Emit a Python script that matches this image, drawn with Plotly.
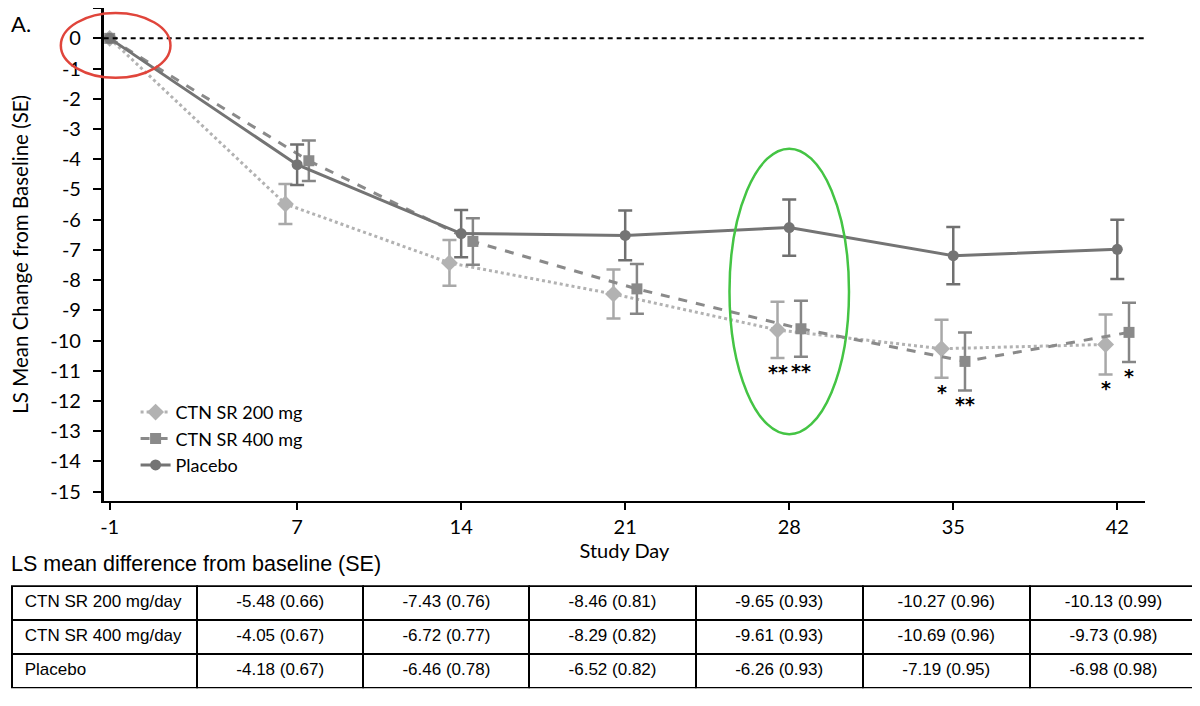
import plotly.graph_objects as go

days = [-1, 7, 14, 21, 28, 35, 42]
y_ticks = list(range(-15, 2))

mean_200 = [0, -5.48, -7.43, -8.46, -9.65, -10.27, -10.13]
se_200 = [0, 0.66, 0.76, 0.81, 0.93, 0.96, 0.99]
sig_200 = ["", "", "", "", "**", "*", "*"]

mean_400 = [0, -4.05, -6.72, -8.29, -9.61, -10.69, -9.73]
se_400 = [0, 0.67, 0.77, 0.82, 0.93, 0.96, 0.98]
sig_400 = ["", "", "", "", "**", "**", "*"]

mean_pbo = [0, -4.18, -6.46, -6.52, -6.26, -7.19, -6.98]
se_pbo = [0, 0.67, 0.78, 0.82, 0.93, 0.95, 0.98]

table_rows = ["CTN SR 200 mg/day", "CTN SR 400 mg/day", "Placebo"]

# page body has an 8px margin, so the figure starts at (8, 8) in the window
OFF = 8
W, H = 1200 - OFF, 706 - OFF
AX_FONT = "Lato"
TB_FONT = "Liberation Sans, Arial"


def px_x(p):
    return (p - OFF) / W


def px_y(p):
    return 1 - (p - OFF) / H


def dodge(xs, d):
    # small horizontal shift so error bars don't overlap; none at baseline
    return [x if x == -1 else x + d for x in xs]


def nowrap(s):
    # keep table labels on one line
    return s.replace(" ", "\u00a0")


series = [
    ("CTN SR 200 mg", mean_200, se_200, -0.5, "#b2b2b2", "#a8a8a8", "dot", "diamond", 13),
    ("CTN SR 400 mg", mean_400, se_400, 0.5, "#8a8a8a", "#868686", "dash", "square", 11),
    ("Placebo", mean_pbo, se_pbo, 0.0, "#747474", "#707070", "solid", "circle", 11),
]

fig = go.Figure()

for name, m, se, d, col, ecol, dash, sym, msize in series:
    fig.add_trace(go.Scatter(
        x=dodge(days, d), y=m, name=name, mode="lines+markers",
        line=dict(color=col, width=3, dash=dash),
        marker=dict(symbol=sym, size=msize, color=col),
        error_y=dict(type="data", array=se, visible=True, color=ecol, thickness=2.5, width=7),
        cliponaxis=False,
    ))

# significance stars under the lower error bar
for m, se, sig, d in [(mean_200, se_200, sig_200, -0.5), (mean_400, se_400, sig_400, 0.5)]:
    for x, v, s, txt in zip(dodge(days, d), m, se, sig):
        if txt:
            fig.add_annotation(
                x=x, y=v - s, text=txt, showarrow=False, yanchor="top", yshift=-1,
                font=dict(family="DejaVu Sans", size=19, color="black", weight="bold"),
            )

fig.add_hline(y=0, line=dict(color="black", width=2, dash="5px,4px"))

# highlight ellipses
fig.add_shape(type="circle", xref="x", yref="y", x0=25.45, x1=30.55, y0=-13.1, y1=-3.65,
              line=dict(color="#44c444", width=2.5))
fig.add_shape(type="circle", xref="paper", yref="paper",
              x0=px_x(57), x1=px_x(167), y0=px_y(78), y1=px_y(13),
              line=dict(color="#e0453b", width=2.5))

fig.add_annotation(xref="paper", yref="paper", x=px_x(OFF), y=px_y(OFF), text="A.",
                   showarrow=False, xanchor="left", yanchor="top", xshift=-3,
                   font=dict(family=AX_FONT, size=22, color="black"))
fig.add_annotation(xref="paper", yref="paper", x=px_x(OFF), y=px_y(566), text="LS mean difference from baseline (SE)",
                   showarrow=False, xanchor="left", yanchor="middle", xshift=-3,
                   font=dict(family=TB_FONT, size=21.5, color="black"))

# table: first row goes in the header so it looks like a plain grid
def fmt(ms, ss):
    return [f"{v:.2f} ({s:.2f})" for v, s in zip(ms[1:], ss[1:])]


vals_200, vals_400, vals_pbo = fmt(mean_200, se_200), fmt(mean_400, se_400), fmt(mean_pbo, se_pbo)
header_vals = [nowrap(" " + table_rows[0])] + [nowrap(v) for v in vals_200]
cell_vals = [[nowrap(" " + table_rows[1]), nowrap(" " + table_rows[2])]] + \
    [[nowrap(a), nowrap(b)] for a, b in zip(vals_400, vals_pbo)]
align = ["left"] + ["center"] * 6
tfont = dict(family=TB_FONT, size=17, color="black")

fig.add_trace(go.Table(
    domain=dict(x=[px_x(OFF), px_x(1197)], y=[px_y(691), px_y(588)]),
    columnwidth=[185, 166, 166, 166, 167, 167, 167],
    header=dict(values=header_vals, align=align, height=34, fill_color="white",
                line=dict(color="black", width=2), font=tfont),
    cells=dict(values=cell_vals, align=align, height=34, fill_color="white",
               line=dict(color="black", width=2), font=tfont),
))

fig.update_xaxes(
    domain=[px_x(100), px_x(1145)], range=[-1.255, 43.19],
    tickvals=days, ticktext=[str(d) for d in days],
    ticks="outside", ticklen=7, tickwidth=2, tickcolor="black",
    showline=True, linecolor="black", linewidth=2, showgrid=False, zeroline=False,
    tickfont=dict(family=AX_FONT, size=20, color="black"),
    title=dict(text="Study Day", font=dict(family=AX_FONT, size=20, color="black"), standoff=2),
)
fig.update_yaxes(
    domain=[px_y(502), 1], range=[-15.296, 1.005],
    tickvals=y_ticks, ticktext=[str(t) for t in y_ticks],
    ticks="outside", ticklen=8, tickwidth=2, tickcolor="black", ticklabelstandoff=8,
    showline=True, linecolor="black", linewidth=2.5, showgrid=False, zeroline=False,
    tickfont=dict(family=AX_FONT, size=20, color="black"),
    title=dict(text="LS Mean Change from Baseline (SE)", font=dict(family=AX_FONT, size=20.5, color="black"),
               standoff=17),
)

fig.update_layout(
    width=W, height=H, margin=dict(l=0, r=0, t=0, b=0),
    paper_bgcolor="white", plot_bgcolor="white",
    legend=dict(x=px_x(132), y=px_y(395), xanchor="left", yanchor="top",
                font=dict(family=AX_FONT, size=18, color="black"),
                bgcolor="rgba(0,0,0,0)", tracegroupgap=0),
    showlegend=True,
)

fig.write_html("out.html")
